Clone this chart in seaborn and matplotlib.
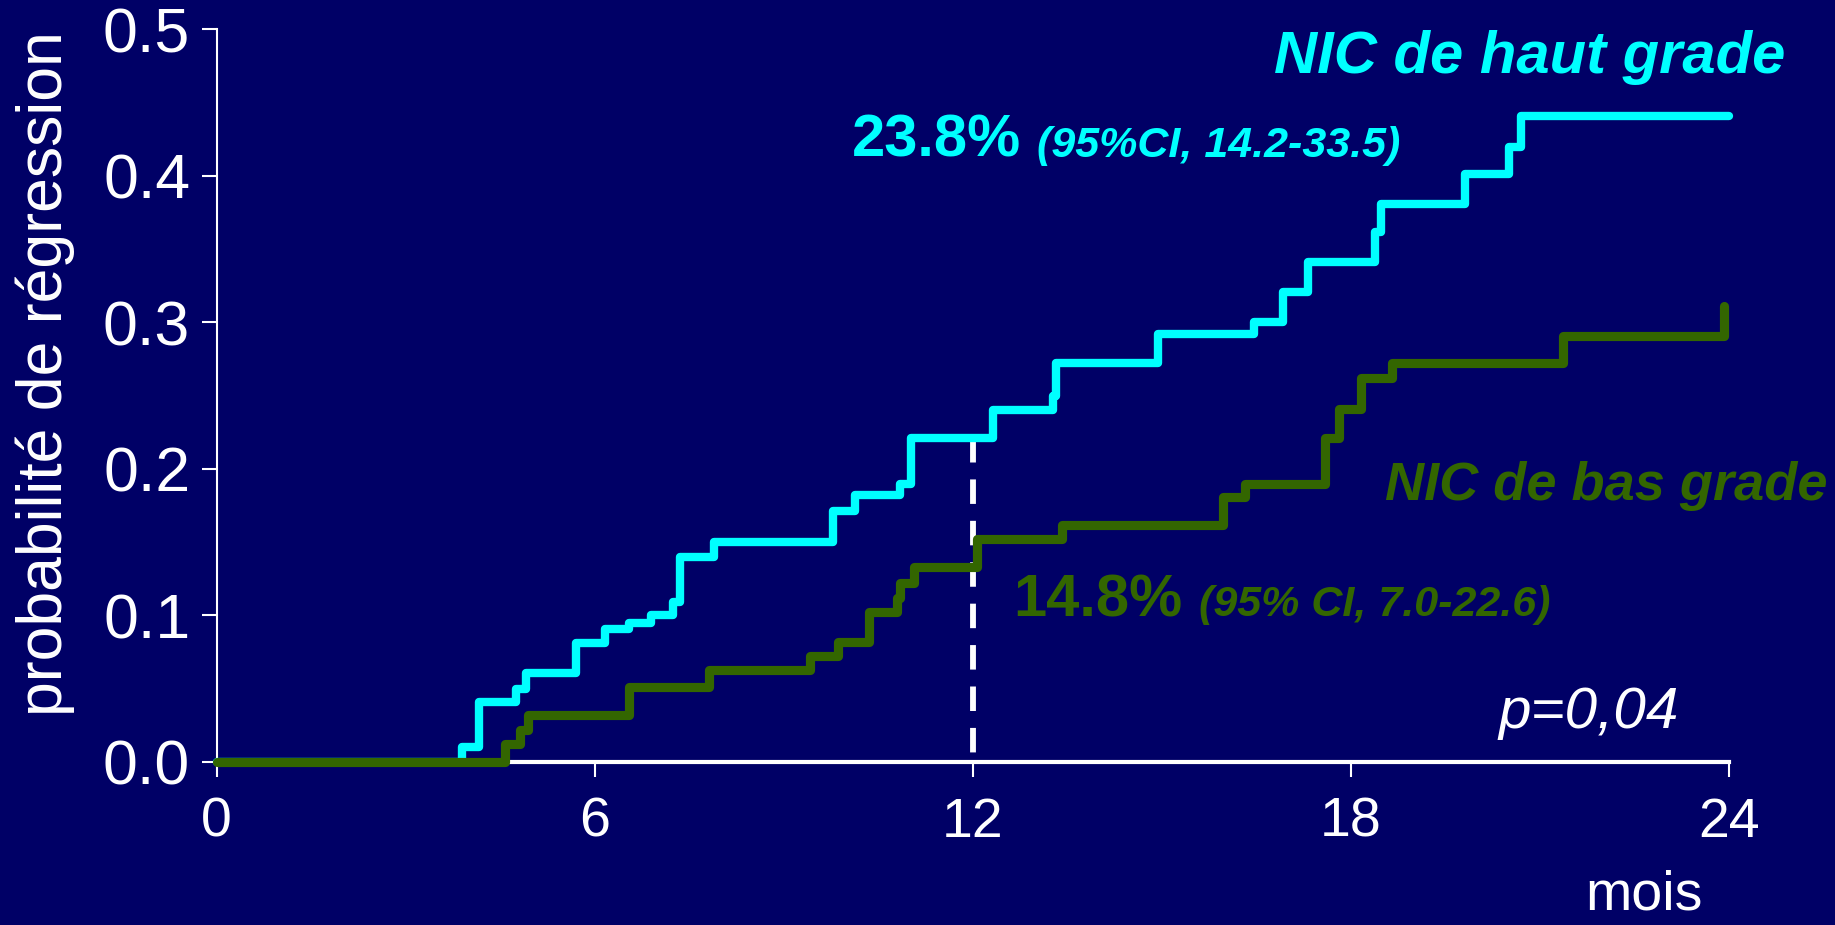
import matplotlib
matplotlib.use("Agg")
import matplotlib.pyplot as plt
import numpy as np
import pandas as pd
import seaborn as sns

BG = "#000066"
CYAN = "#00ffff"
GREEN = "#336600"

# courbes de régression cumulée (mois, probabilité)
haut_mois = [0, 3.89, 4.16, 4.75, 4.92, 5.70, 6.17, 6.54, 6.89, 7.25, 7.36, 7.89,
             9.79, 10.13, 10.85, 11.03, 12.32, 13.28, 13.33, 14.95, 16.47, 16.93,
             17.33, 18.39, 18.49, 19.81, 20.52, 20.70, 24.0]
haut_prob = [0, 0.010, 0.041, 0.050, 0.061, 0.081, 0.091, 0.095, 0.100, 0.109, 0.140, 0.150,
             0.171, 0.182, 0.190, 0.221, 0.240, 0.250, 0.272, 0.292, 0.300, 0.321,
             0.341, 0.362, 0.381, 0.401, 0.420, 0.441, 0.441]

bas_mois = [0, 4.58, 4.82, 4.95, 6.54, 7.81, 9.42, 9.87, 10.35, 10.80, 10.85, 11.07,
            12.07, 13.42, 15.98, 16.33, 17.60, 17.81, 18.16, 18.65, 21.37, 23.92]
bas_prob = [0, 0.012, 0.022, 0.032, 0.051, 0.063, 0.072, 0.082, 0.102, 0.112, 0.122, 0.133,
            0.152, 0.162, 0.181, 0.190, 0.221, 0.241, 0.262, 0.272, 0.291, 0.311]

x_ticks = [0, 6, 12, 18, 24]
y_ticks = [0.0, 0.1, 0.2, 0.3, 0.4, 0.5]
mois_repere = 12

sns.set_theme(style="ticks", rc={
    "figure.facecolor": BG,
    "axes.facecolor": BG,
    "axes.edgecolor": "white",
    "xtick.color": "white",
    "ytick.color": "white",
    "text.color": "white",
    "axes.labelcolor": "white",
})
plt.rcParams["font.family"] = ["Liberation Sans", "DejaVu Sans"]

fig = plt.figure(figsize=(18.35, 9.25), dpi=100)
ax = fig.add_axes([0.118, 0.1763, 0.824, 0.792])

haut = pd.DataFrame({"mois": haut_mois, "prob": haut_prob})
bas = pd.DataFrame({"mois": bas_mois, "prob": bas_prob})

line_kw = dict(drawstyle="steps-post", estimator=None, sort=False, legend=False,
               solid_capstyle="round", solid_joinstyle="round", clip_on=False)
sns.lineplot(data=haut, x="mois", y="prob", color=CYAN, linewidth=6.0, ax=ax, zorder=4, **line_kw)
sns.lineplot(data=bas, x="mois", y="prob", color=GREEN, linewidth=6.6, ax=ax, zorder=5, **line_kw)

# repère pointillé à 12 mois jusqu'à la courbe haut grade
idx = np.searchsorted(haut_mois, mois_repere, side="right") - 1
ax.plot([mois_repere, mois_repere], [haut_prob[idx], 0], color="white", linewidth=4.2,
        dashes=(4.2, 2.9), zorder=3, clip_on=False)

ax.set_xlim(0, 24)
ax.set_ylim(0, 0.5)
ax.set_xticks(x_ticks)
ax.set_xticklabels([str(t) for t in x_ticks])
ax.set_yticks(y_ticks)
ax.set_yticklabels([f"{t:.1f}" for t in y_ticks])
ax.tick_params(axis="both", direction="out", length=11, width=1.5)
ax.tick_params(axis="x", pad=14, labelsize=40)
ax.tick_params(axis="y", pad=8, labelsize=45)
sns.despine(ax=ax)
ax.spines["left"].set_linewidth(1.5)
ax.spines["bottom"].set_linewidth(3)
ax.spines["bottom"].set_zorder(2)

ax.set_xlabel("")
ax.set_ylabel("probabilité de régression", fontsize=45)
ax.yaxis.set_label_coords(-0.0936, 0.53)

ax.text(16.79, 0.470, "NIC de haut grade", color=CYAN, fontsize=43,
        fontweight="bold", fontstyle="italic", clip_on=False)
ax.text(18.54, 0.179, "NIC de bas grade", color=GREEN, fontsize=39,
        fontweight="bold", fontstyle="italic", clip_on=False)

ax.text(10.09, 0.413, "23.8%", color=CYAN, fontsize=43, fontweight="bold")
ax.text(13.02, 0.413, "(95%CI, 14.2-33.5)", color=CYAN, fontsize=31,
        fontweight="bold", fontstyle="italic")
ax.text(12.65, 0.0995, "14.8%", color=GREEN, fontsize=43, fontweight="bold")
ax.text(15.59, 0.0995, "(95% CI, 7.0-22.6)", color=GREEN, fontsize=31,
        fontweight="bold", fontstyle="italic")

ax.text(20.34, 0.023, "p=0,04", color="white", fontsize=42, fontstyle="italic")
ax.text(22.66, -0.101, "mois", color="white", fontsize=40, ha="center", clip_on=False)

fig.savefig("out.png", dpi=100, facecolor=BG)
